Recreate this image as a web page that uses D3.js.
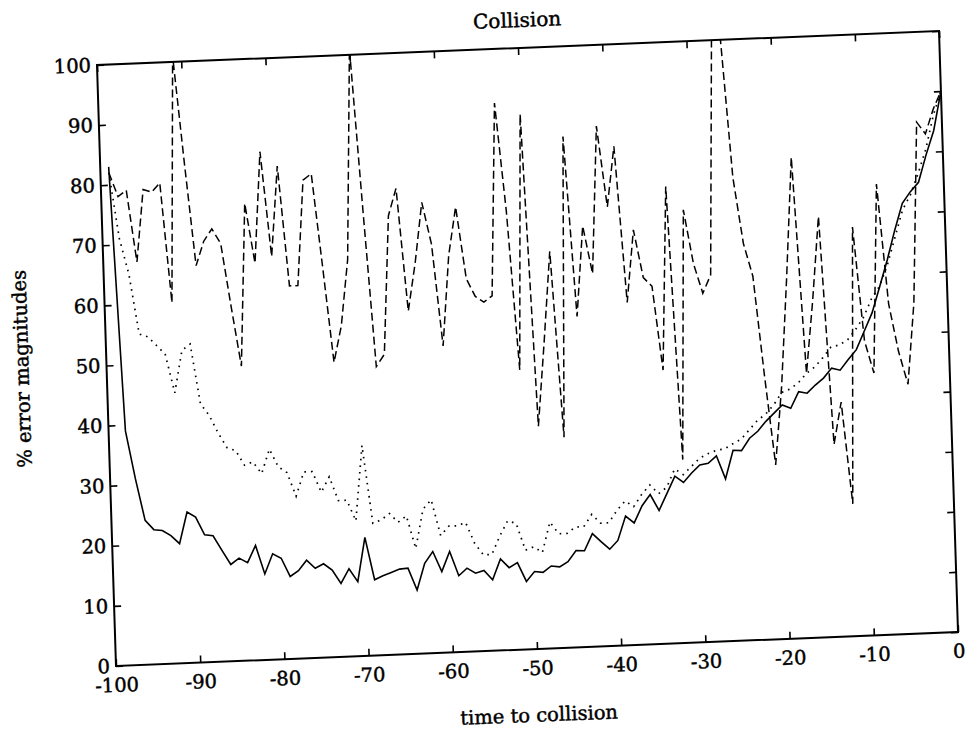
<!DOCTYPE html>
<html><head><meta charset="utf-8">
<script src="https://cdn.jsdelivr.net/npm/d3@7"></script>
<style>
body{margin:0;background:#fff;}
text{font-family:"DejaVu Serif","Liberation Serif",serif;fill:#000;stroke:#000;stroke-width:0.45px;}
</style>
</head><body><svg id="c" width="967" height="730"></svg>
<script>
const times = [
 -99,-98,-97,-96,-95,-94,-93,-92,-91,-90,
 -89,-88,-87,-86,-85,-84,-83,-82,-81,-80,
 -79,-78,-77,-76,-75,-74,-73,-72,-71,-70,
 -69,-68,-67,-66,-65,-64,-63,-62,-61,-60,
 -59,-58,-57,-56,-55,-54,-53,-52,-51,-50,
 -49,-48,-47,-46,-45,-44,-43,-42,-41,-40,
 -39,-38,-37,-36,-35,-34,-33,-32,-31,-30,
 -29,-28,-27,-26,-25,-24,-23,-22,-21,-20,
 -19,-18,-17,-16,-15,-14,-13,-12,-11,-10,
 -9,-8,-7,-6,-5,-4,-3,-2,-1,0];
const solidValues = [
 83,39,31,24,22.4,22.2,21.3,19.9,25.1,24.2,
 21.2,21.0,18.5,16.1,17.1,16.3,19.1,14.3,17.6,16.8,
 13.7,14.6,16.3,14.9,15.6,14.5,12.2,14.6,12.4,19.7,
 12.6,13.2,13.7,14.2,14.3,10.6,15.0,16.9,13.5,16.8,
 12.7,13.9,13.0,13.4,11.8,15.2,13.7,14.5,11.3,12.9,
 12.7,13.7,13.5,14.3,16.1,16.0,18.8,17.4,16.1,17.5,
 21.5,20.3,23.1,24.9,22.2,25.0,27.8,26.7,28.2,29.5,
 29.7,30.9,27.0,31.7,31.6,33.6,34.7,36.3,37.6,38.9,
 38.3,41.0,40.7,42.0,43.1,44.7,44.3,46.0,47.6,50.6,
 53.6,57.9,62.3,67.2,71.6,73.5,75.0,79.5,83.5,90.0];
const dottedValues = [
 82,71,65,55,54.5,53,51.5,45,52,53,
 43,41,38,35.5,35,32.5,33,31,35,32,
 31,27,31,31,27.5,30,26,26,22.5,35,
 22,22.5,23.5,22,23,17.5,24,25.5,19.5,21,
 21,21.5,18,16,16,19,21.5,21,16.5,17,
 16,21,19,19,20,20,22,20.5,20.5,22.5,
 24,23,25,26.5,25,26,29,28,29.3,30.6,
 31.3,31.8,32,32.8,33.5,35,36.5,37.5,39,41,
 41.5,42.5,44,45,46.5,48.2,48.5,49.3,51,53,
 56,58,61.5,66,70.5,73,76.5,80.5,86,90];
const dashedValues = [
 82,78,79,67,79,78.5,80,60,101,83,
 66,70,72,69.5,59,49,76,66,84.5,67,
 82,62,62,79.5,80.5,65,49,55,66,101,
 74,48,50,73,77.5,57,65,75,68,51,
 66,74,62,59,58,59,91,73,46.5,89,
 37,51,66,35,85,55,70,62,86.5,73,
 83,57,69,61,59.5,45.5,76,30.5,72,63,
 58,61,101,101,77,66,60.5,44,29,42,
 60,80,44,56,70,32,39,22,68,49,
 43.6,75,55,47,41.5,55,85,83,87,90];
const xTicks = [-100,-90,-80,-70,-60,-50,-40,-30,-20,-10,0];
const yTicks = [0,10,20,30,40,50,60,70,80,90,100];
const titleText = "Collision";
const xLabel = "time to collision";
const yLabel = "% error magnitudes";

const W = 842.7, H = 601.3;
const svg = d3.select("#c");
svg.append("rect").attr("width",967).attr("height",730).attr("fill","#fff");
// the scanned page is slightly rotated/skewed
const g = svg.append("g").attr("transform","matrix(0.99918,-0.04035,0.0316,0.9995,97,65)");

const x = d3.scaleLinear().domain([-100,0]).range([0,W]);
const y = d3.scaleLinear().domain([0,100]).range([H,0]);

g.append("defs").append("clipPath").attr("id","clip")
 .append("rect").attr("x",0).attr("y",0).attr("width",W).attr("height",H);

const line = d3.line().x((d,i)=>x(times[i])).y(d=>y(d));
const plot = g.append("g").attr("clip-path","url(#clip)");
plot.append("path").datum(dashedValues).attr("d",line)
 .attr("fill","none").attr("stroke","#000").attr("stroke-width",1.5)
 .attr("stroke-dasharray","8,4");
plot.append("path").datum(dottedValues).attr("d",line)
 .attr("fill","none").attr("stroke","#000").attr("stroke-width",1.7)
 .attr("stroke-dasharray","1.6,5");
plot.append("path").datum(solidValues).attr("d",line)
 .attr("fill","none").attr("stroke","#000").attr("stroke-width",1.6)
 .attr("stroke-linejoin","miter");

const fs = 19.5;
function styleAxis(sel, labels){
  sel.select(".domain").remove();
  sel.selectAll(".tick line").attr("stroke","#000").attr("stroke-width",1.6);
  sel.selectAll(".tick text").attr("font-size",fs).attr("font-family","DejaVu Serif");
  if(!labels) sel.selectAll(".tick text").remove();
}
const fmt = d=>String(d);
g.append("g").attr("transform",`translate(0,${H})`)
 .call(d3.axisBottom(x).tickValues(xTicks).tickSize(-7).tickPadding(12).tickFormat(fmt))
 .call(s=>styleAxis(s,true));
g.append("g")
 .call(d3.axisTop(x).tickValues(xTicks).tickSize(-7).tickFormat(fmt))
 .call(s=>styleAxis(s,false));
g.append("g")
 .call(d3.axisLeft(y).tickValues(yTicks).tickSize(-7).tickPadding(6).tickFormat(fmt))
 .call(s=>styleAxis(s,true));
g.append("g").attr("transform",`translate(${W},0)`)
 .call(d3.axisRight(y).tickValues(yTicks).tickSize(-7).tickFormat(fmt))
 .call(s=>styleAxis(s,false));

g.append("rect").attr("x",0).attr("y",0).attr("width",W).attr("height",H)
 .attr("fill","none").attr("stroke","#000").attr("stroke-width",2);

g.append("text").attr("x",W/2).attr("y",-21).attr("text-anchor","middle")
 .attr("font-size",20).text(titleText);
g.append("text").attr("x",W/2).attr("y",674).attr("text-anchor","middle")
 .attr("font-size",fs).text(xLabel);
g.append("text").attr("transform",`translate(-78,${H/2}) rotate(-90)`)
 .attr("text-anchor","middle").attr("font-size",fs).text(yLabel);
</script>
</body></html>
